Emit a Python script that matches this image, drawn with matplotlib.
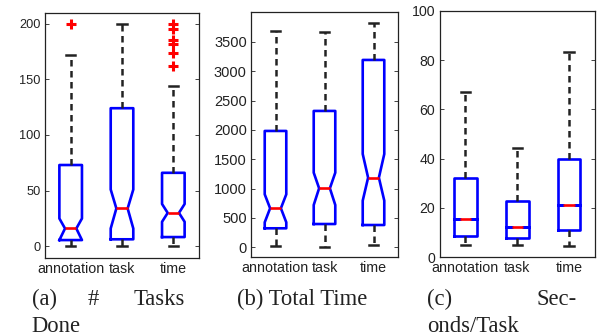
import numpy as np
import matplotlib
matplotlib.use("Agg")
import matplotlib.pyplot as plt

# groups shown on every panel
groups = ["annotation", "task", "time"]

# (a) # Tasks Done
a_lo = [0, 0, 0]
a_q1 = [5.6, 6.3, 8.3]
a_med = [16, 34, 30]
a_q3 = [73, 124, 66]
a_hi = [172, 200, 144]
a_cilo = [5.6, 16, 22]
a_cihi = [25, 51, 38]
a_fliers = [[200], [], [162, 174, 182, 185, 195, 200]]

# (b) Total Time
b_lo = [22, 10, 45]
b_q1 = [324, 397, 380]
b_med = [665, 1006, 1187]
b_q3 = [1983, 2324, 3193]
b_hi = [3692, 3665, 3818]
b_cilo = [426, 721, 795]
b_cihi = [903, 1272, 1590]
b_fliers = [[], [], []]

# (c) Seconds/Task  (notches fall outside the box, drawn flat at the median)
c_lo = [5, 5, 4.6]
c_q1 = [8.6, 8, 11]
c_med = [15.5, 12.4, 21.2]
c_q3 = [32, 22.8, 39.9]
c_hi = [67, 44.4, 83.1]
c_cilo = c_med
c_cihi = c_med
c_fliers = [[], [], []]

W, H = 597, 333
fig = plt.figure(figsize=(W / 100, H / 100), dpi=100)
fig.patch.set_facecolor("white")

txt_col = "#222222"


def make_stats(lo, q1, med, q3, hi, cilo, cihi, fliers):
    out = []
    for i in range(len(groups)):
        out.append(dict(label=groups[i], whislo=lo[i], q1=q1[i], med=med[i],
                        q3=q3[i], whishi=hi[i], cilo=cilo[i], cihi=cihi[i],
                        fliers=np.array(fliers[i])))
    return out


def draw_panel(rect, stats, ylim, yticks, labsize):
    ax = fig.add_axes(rect)
    ax.bxp(stats, positions=[1, 2, 3], widths=0.44, capwidths=0.18,
           shownotches=True, showfliers=True,
           boxprops=dict(color="#0000ff", linewidth=1.9),
           medianprops=dict(color="#ff0000", linewidth=1.9),
           whiskerprops=dict(color=txt_col, linewidth=1.8, linestyle=(0, (2.6, 1.8))),
           capprops=dict(color=txt_col, linewidth=1.8),
           flierprops=dict(marker="+", markeredgecolor="#ff0000", markersize=7,
                           markeredgewidth=2.2, linestyle="none"))
    ax.set_xlim(0.5, 3.5)
    ax.set_ylim(*ylim)
    ax.set_yticks(yticks)
    ax.set_xticks([1, 2, 3])
    ax.set_xticklabels(groups)
    ax.tick_params(axis="y", direction="in", right=True, length=3, width=0.6,
                   labelsize=labsize, colors=txt_col, pad=3)
    ax.tick_params(axis="x", length=0, labelsize=10.3, colors=txt_col, pad=3)
    for lab in ax.get_xticklabels() + ax.get_yticklabels():
        lab.set_fontfamily("Liberation Sans")
    for s in ax.spines.values():
        s.set_linewidth(0.9)
        s.set_color(txt_col)
    return ax


def rect(l, r, t, b):
    return [l / W, 1 - b / H, (r - l) / W, (b - t) / H]


draw_panel(rect(45, 199, 13, 258),
           make_stats(a_lo, a_q1, a_med, a_q3, a_hi, a_cilo, a_cihi, a_fliers),
           (-10.5, 209.5), [0, 50, 100, 150, 200], 9.2)
draw_panel(rect(251, 398, 12.3, 256.7),
           make_stats(b_lo, b_q1, b_med, b_q3, b_hi, b_cilo, b_cihi, b_fliers),
           (-160, 4005), np.arange(0, 3501, 500), 10.5)
draw_panel(rect(439.5, 595, 10.7, 257.3),
           make_stats(c_lo, c_q1, c_med, c_q3, c_hi, c_cilo, c_cihi, c_fliers),
           (0, 100), [0, 20, 40, 60, 80, 100], 10.2)

# captions, justified like the paper's sub-figure labels
cap = dict(fontfamily="Liberation Serif", fontsize=16.3, color=txt_col, va="baseline")


def put(x, y, s, ha="left"):
    fig.text(x / W, 1 - y / H, s, ha=ha, **cap)


put(31.7, 305, "(a)")
put(93, 305, "#", ha="center")
put(185, 305, "Tasks", ha="right")
put(31.7, 332.5, "Done")
put(237, 305, "(b) Total Time")
put(426.7, 305, "(c)")
put(577, 305, "Sec-", ha="right")
put(426.7, 332.5, "onds/Task")

fig.savefig("out.png", dpi=100, facecolor="white")
